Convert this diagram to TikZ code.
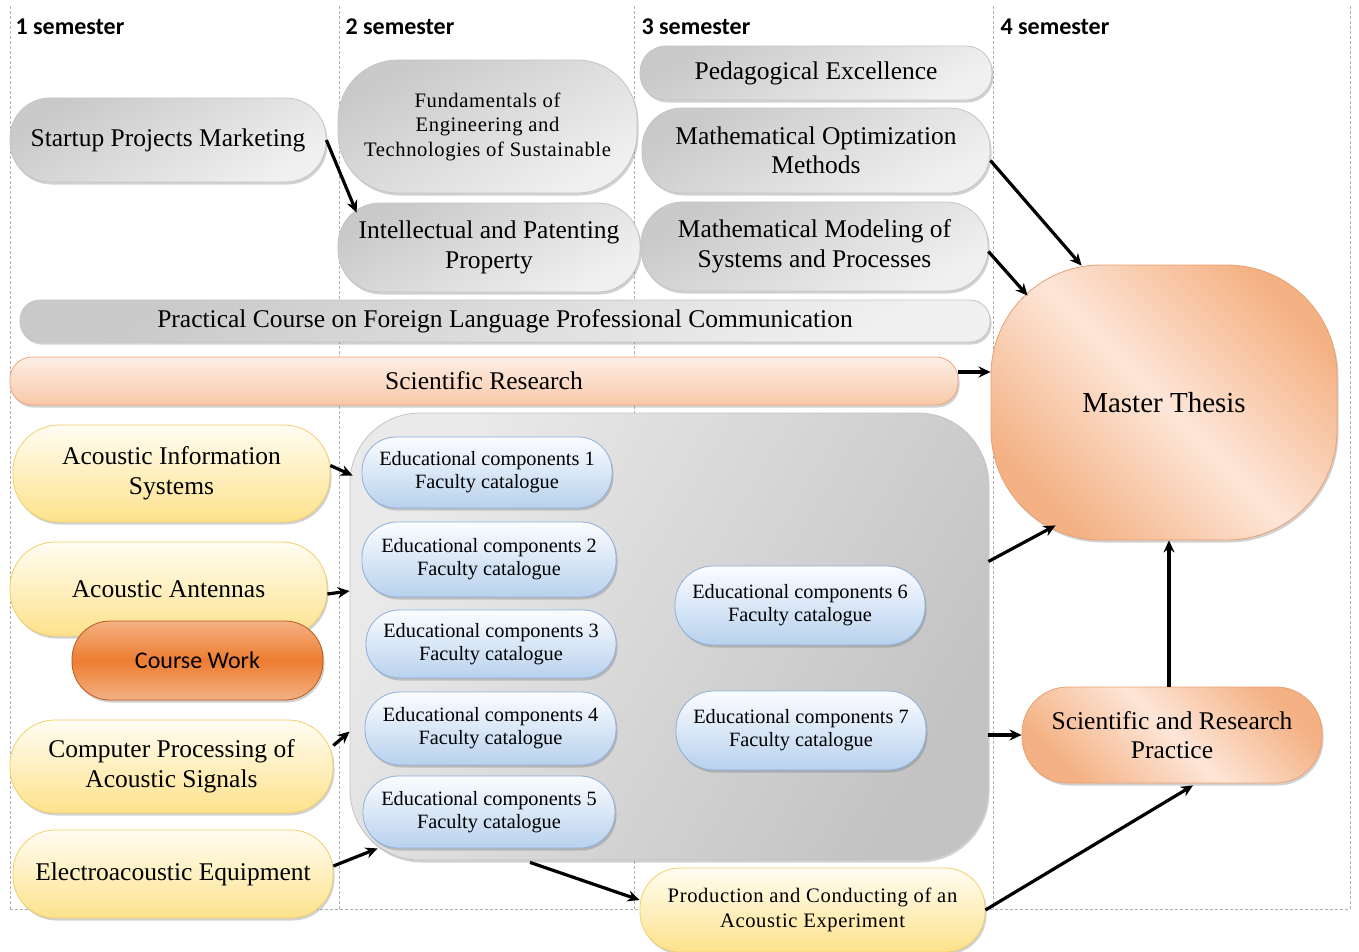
\documentclass[tikz,border=0pt]{standalone}
\usepackage{fontspec}
\setmainfont{Liberation Serif}
\newfontfamily\hdrfont{Carlito}
\newfontfamily\spacedfont[LetterSpace=3]{Liberation Serif}
\usetikzlibrary{arrows.meta,shadows}
\definecolor{gA}{HTML}{C9C9C9}
\definecolor{gB}{HTML}{F0F0F0}
\definecolor{gBorder}{HTML}{C4C4C4}
\definecolor{bA}{HTML}{FBFDFF}
\definecolor{bB}{HTML}{B8D1EE}
\definecolor{bBorder}{HTML}{8DAFDA}
\definecolor{yA}{HTML}{FFFDF3}
\definecolor{yB}{HTML}{FDE28C}
\definecolor{yBorder}{HTML}{F2CF6A}
\definecolor{sA}{HTML}{FDEFE6}
\definecolor{sB}{HTML}{F8C8A8}
\definecolor{sBorder}{HTML}{F0A47A}
\definecolor{mDark}{HTML}{F4B183}
\definecolor{mLight}{HTML}{FDE6D8}
\definecolor{mBorder}{HTML}{E9A070}
\definecolor{cMid}{HTML}{ED7D31}
\definecolor{cEnd}{HTML}{F4B183}
\definecolor{cBorder}{HTML}{B85A1C}
\definecolor{kA}{HTML}{EAEAEA}
\definecolor{kB}{HTML}{C3C3C3}
\definecolor{gridc}{HTML}{B0B0B0}
\begin{document}
\begin{tikzpicture}[x=1pt,y=-1pt,
  base/.style={rectangle, inner sep=0pt, align=center, text=black, line width=0.8pt},
  sz/.style n args={3}{minimum width=#1pt, minimum height=#2pt, rounded corners=#3pt},
  shad/.style={drop shadow={shadow xshift=1.5pt, shadow yshift=-2.5pt, opacity=0.3, fill=black!60}},
  gbox/.style={base, shad, draw=gBorder, top color=gA, bottom color=gB, shading angle=30},
  bbox/.style={base, shad, draw=bBorder, top color=bA, bottom color=bB},
  ybox/.style={base, shad, draw=yBorder, top color=yA, bottom color=yB},
  sbox/.style={base, shad, draw=sBorder, top color=sA, bottom color=sB},
  mbox/.style={base, shad, draw=mBorder, top color=mDark, bottom color=mDark, middle color=mLight, shading angle=-45},
  cwbox/.style={base, shad, draw=cBorder, top color=cEnd, bottom color=cEnd, middle color=cMid},
  kbox/.style={base, shad, draw=kB, top color=kA, bottom color=kB, shading angle=60},
  bigf/.style={font=\fontsize{25.5}{29.5}\selectfont},
  midf/.style={font=\fontsize{20.6}{24.5}\selectfont},
  smf/.style={font=\fontsize{20.3}{23}\selectfont},
  hdr/.style={anchor=base west, font=\hdrfont\bfseries\fontsize{24}{27}\selectfont},
  gridline/.style={draw=gridc, line width=0.6pt, dash pattern=on 3pt off 2pt},
  arr/.style={draw=black, line width=3.2pt, -{Stealth[length=12pt,width=11pt]}}
]
\useasboundingbox (0,0) rectangle (1359,951);
% grid
\foreach \gx in {10,339,634,993,1350} {\draw[gridline] (\gx,6) -- (\gx,909);}
\draw[gridline] (10,909) -- (1350,909);
% headers
\node[hdr] (h1) at (12,34) {1 semester};
\node[hdr] (h2) at (342,34) {2 semester};
\node[hdr] (h3) at (638,34) {3 semester};
\node[hdr] (h4) at (997,34) {4 semester};
% gray nodes
\node[gbox, sz={316}{84}{40}, bigf] (startup) at (168,140) {Startup Projects Marketing};
\node[gbox, sz={299}{133}{60}, midf] (fund) at (487.5,126.5) {\spacedfont Fundamentals of\\\spacedfont Engineering and\\\spacedfont Technologies of Sustainable};
\node[gbox, sz={302}{89}{42}, bigf] (intel) at (489,247.5) {Intellectual and Patenting\\Property};
\node[gbox, sz={352}{54}{26}, bigf] (peda) at (816,73) {Pedagogical Excellence};
\node[gbox, sz={348}{85}{40}, bigf] (mopt) at (816,150.5) {Mathematical Optimization\\Methods};
\node[gbox, sz={347}{89}{42}, bigf] (mmod) at (814.5,246.5) {Mathematical Modeling of\\Systems and Processes};
\node[gbox, sz={970}{42}{20}, bigf] (prac) at (505,321) {Practical Course on Foreign Language Professional Communication};
\node[sbox, sz={948}{48}{22}, bigf] (sci) at (484,381) {Scientific Research};
% master thesis
\node[mbox, sz={346}{275}{110}, font=\fontsize{29}{33}\selectfont] (master) at (1164,402.5) {Master Thesis};
% container
\node[kbox, sz={638}{447}{70}] (cont) at (669,636.5) {};
% educational components
\node[bbox, sz={250}{71}{34}, smf] (e1) at (487,472.5) {Educational components 1\\Faculty catalogue};
\node[bbox, sz={254}{75}{35}, smf] (e2) at (489,559.5) {Educational components 2\\Faculty catalogue};
\node[bbox, sz={250}{68}{33}, smf] (e3) at (491,644) {Educational components 3\\Faculty catalogue};
\node[bbox, sz={251}{73}{35}, smf] (e4) at (490.5,728.5) {Educational components 4\\Faculty catalogue};
\node[bbox, sz={252}{72}{35}, smf] (e5) at (489,812) {Educational components 5\\Faculty catalogue};
\node[bbox, sz={250}{79}{38}, smf] (e6) at (800,605.5) {Educational components 6\\Faculty catalogue};
\node[bbox, sz={250}{79}{38}, smf] (e7) at (801,730.5) {Educational components 7\\Faculty catalogue};
% yellow nodes
\node[ybox, sz={317}{97}{46}, bigf] (ais) at (171.5,473.5) {Acoustic Information\\Systems};
\node[ybox, sz={317}{94}{45}, bigf] (ant) at (168.5,589) {Acoustic Antennas};
\node[cwbox, sz={251}{79}{38}, font=\hdrfont\fontsize{24}{28}\selectfont] (cw) at (197.5,660.5) {Course Work};
\node[ybox, sz={323}{93}{45}, bigf] (cps) at (171.5,766.5) {Computer Processing of\\Acoustic Signals};
\node[ybox, sz={320}{88}{42}, bigf] (elec) at (173,874) {Electroacoustic Equipment};
\node[ybox, sz={345}{84}{40}, midf] (prod) at (812.5,910) {\spacedfont Production and Conducting of an\\\spacedfont Acoustic Experiment};
\node[mbox, sz={300}{96}{46}, bigf] (srp) at (1172,735) {Scientific and Research\\Practice};
% helper coordinates
\coordinate (sciR) at ([yshift=9pt]sci.east);
\coordinate (aisC) at (ais.east -| cont.west);
\coordinate (antC) at (ant.east -| cont.west);
\coordinate (cpsC) at (cps.east -| cont.west);
\coordinate (contSR) at (cont.east |- srp.west);
% arrows
\draw[arr] (startup.east) -- ([xshift=19pt,yshift=-10pt]intel.north west);
\draw[arr] ([yshift=-10pt]mopt.east) -- ([xshift=91pt,yshift=-1pt]master.north west);
\draw[arr] ([yshift=-5pt]mmod.east) -- ([xshift=37pt,yshift=-31pt]master.north west);
\draw[arr] (sciR) -- (sciR -| master.west);
\draw[arr] ([yshift=75pt]cont.east) -- ([xshift=65pt,yshift=15pt]master.south west);
\draw[arr] ([xshift=-3pt]srp.north) -- ([xshift=-3pt]srp.north |- master.south);
\draw[arr] (contSR) -- (srp.west);
\draw[arr] (prod.east) -- ([xshift=21pt,yshift=-2pt]srp.south);
\draw[arr] ([xshift=-139pt,yshift=-2pt]cont.south) -- ([yshift=10pt]prod.west);
\draw[arr] ([yshift=8pt]ais.east) -- ([xshift=3pt,yshift=-2pt]aisC);
\draw[arr] ([yshift=-5pt]ant.east) -- ([yshift=-2pt]antC);
\draw[arr] ([yshift=21pt]cps.east) -- ([yshift=35pt]cpsC);
\draw[arr] ([yshift=8pt]elec.east) -- ([xshift=28pt,yshift=12pt]cont.south west);
\end{tikzpicture}
\end{document}
